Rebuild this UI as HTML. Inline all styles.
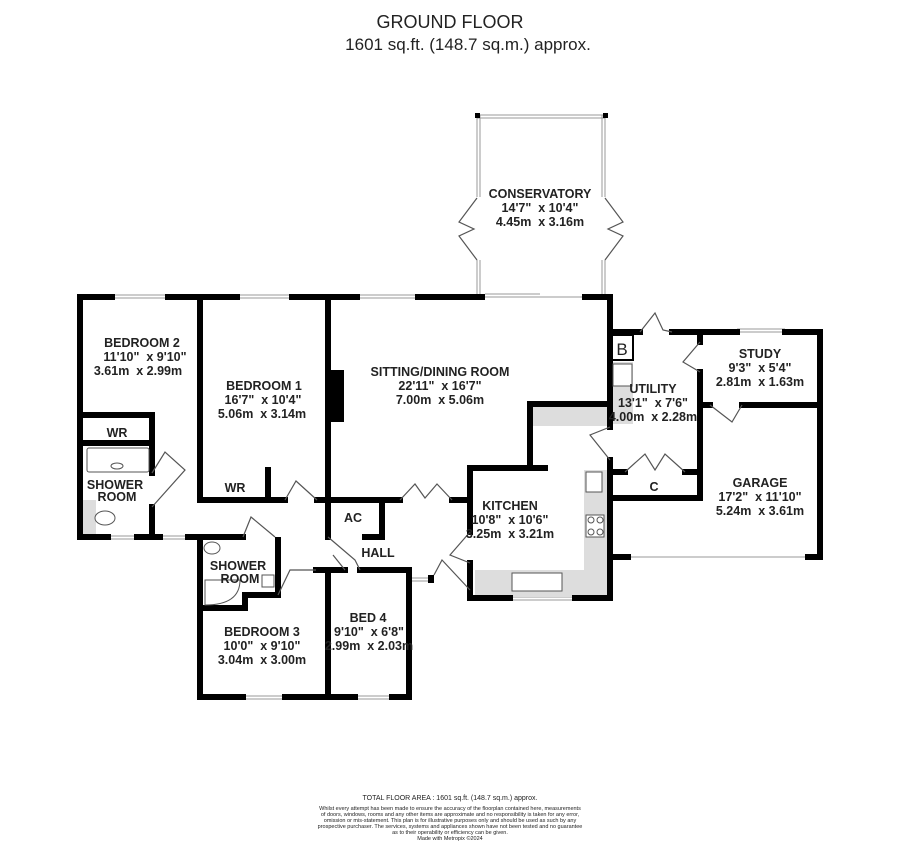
<!DOCTYPE html>
<html><head><meta charset="utf-8"><style>
body{margin:0;background:#fff;width:900px;height:849px;overflow:hidden}
svg{display:block}
.t{font-family:"Liberation Sans",sans-serif;fill:#222}
.r{font-family:"Liberation Sans",sans-serif;font-weight:bold;font-size:12.5px;fill:#222;text-anchor:middle;white-space:pre}
.w{stroke:#000;stroke-width:6;fill:none;stroke-linecap:square}
.th{stroke:#555;stroke-width:1.2;fill:none}
.win{stroke:#999;stroke-width:1;fill:none}
</style></head><body>
<svg width="900" height="849" viewBox="0 0 900 849">
<text class="t" x="450" y="28" font-size="18" text-anchor="middle">GROUND FLOOR</text>
<text class="t" x="468" y="50" font-size="17" text-anchor="middle">1601 sq.ft. (148.7 sq.m.) approx.</text>

<!-- conservatory -->
<g class="win">
<line x1="477" y1="115" x2="605" y2="115"/><line x1="477" y1="118" x2="605" y2="118"/>
<line x1="477" y1="115" x2="477" y2="197"/><line x1="480" y1="115" x2="480" y2="197"/>
<line x1="605" y1="115" x2="605" y2="197"/><line x1="602" y1="115" x2="602" y2="197"/>
<line x1="477" y1="260" x2="477" y2="296"/><line x1="480" y1="260" x2="480" y2="296"/>
<line x1="605" y1="260" x2="605" y2="296"/><line x1="602" y1="260" x2="602" y2="296"/>
</g>
<rect x="475" y="113" width="5" height="5"/><rect x="603" y="113" width="5" height="5"/>
<path class="th" d="M477 198 L459 222 L474 229 L459 236 L477 260 M605 198 L623 222 L608 229 L623 236 L605 260"/>

<!-- windows -->
<g class="win">
<line x1="112" y1="295" x2="168" y2="295"/><line x1="112" y1="298" x2="168" y2="298"/>
<line x1="237" y1="295" x2="292" y2="295"/><line x1="237" y1="298" x2="292" y2="298"/>
<line x1="357" y1="295" x2="418" y2="295"/><line x1="357" y1="298" x2="418" y2="298"/>
<line x1="482" y1="297" x2="585" y2="297"/><line x1="485" y1="294" x2="540" y2="294"/>
<line x1="737" y1="329" x2="785" y2="329"/><line x1="737" y1="332" x2="785" y2="332"/>
<line x1="108" y1="536" x2="137" y2="536"/><line x1="108" y1="539" x2="137" y2="539"/>
<line x1="160" y1="536" x2="188" y2="536"/><line x1="160" y1="539" x2="188" y2="539"/>
<line x1="243" y1="696" x2="285" y2="696"/><line x1="243" y1="699" x2="285" y2="699"/>
<line x1="355" y1="696" x2="392" y2="696"/><line x1="355" y1="699" x2="392" y2="699"/>
<line x1="510" y1="597" x2="575" y2="597"/><line x1="510" y1="600" x2="575" y2="600"/>
<line x1="628" y1="557" x2="808" y2="557"/>
<line x1="411" y1="578" x2="428" y2="578"/><line x1="411" y1="581" x2="428" y2="581"/>
</g>
<rect x="428" y="575" width="6" height="8"/>

<!-- grey fittings -->
<g fill="#ddd">
<rect x="533" y="406" width="75" height="20"/>
<rect x="584" y="470" width="24" height="125"/>
<rect x="475" y="570" width="133" height="27"/>
<rect x="613" y="362" width="20" height="62"/>
<rect x="82" y="500" width="14" height="34"/>
</g>
<rect x="328" y="370" width="16" height="52" fill="#000"/>

<!-- walls -->
<g class="w">
<path d="M80 297 H112 M168 297 H237 M292 297 H357 M418 297 H482 M585 297 H610 V427 M610 460 V598 H575 M510 598 H470 V563 M470 532 V468 H545"/>
<path d="M80 297 V537 H108 M137 537 H160 M188 537 H200 V697 H243 M285 697 H355 M392 697 H409 V570 H360 M345 570 H328 V697 M328 570 H316"/>
<path d="M200 297 V500 H285 M317 500 H400 M452 500 H470"/>
<path d="M328 297 V537 M328 500 V537 M382 500 V537 H365"/>
<path d="M268 470 V500 M82 415 H152 V473 M152 507 V537 M84 443 H152"/>
<path d="M200 537 H243 M278 540 V595 H245 V608 H200"/>
<path d="M530 468 V404 H608"/>
<path d="M610 332 H640 M672 332 H737 M785 332 H820 V557 H808 M610 557 H628"/>
<path d="M700 332 V342 M700 372 V498 H610 M610 472 H625 M685 472 H700"/>
<path d="M700 405 H710 M742 405 H820"/>
</g>
<rect x="612" y="335" width="21" height="25" fill="#fff" stroke="#000" stroke-width="2"/>
<text class="t" x="622" y="355" font-size="17" text-anchor="middle">B</text>

<!-- doors -->
<g class="th">
<path d="M640 332 L655 313 L663 330 L672 332"/>
<path d="M700 342 L683 362 L700 372"/>
<path d="M710 405 L732 422 L742 405"/>
<path d="M625 472 L645 454 L655 470 L665 454 L685 472"/>
<path d="M610 427 L590 435 L610 460"/>
<path d="M400 500 L415 484 L425 498 L437 484 L452 500"/>
<path d="M285 500 L296 481 L317 500"/>
<path d="M152 473 L165 452 L185 470 L152 507"/>
<path d="M243 537 L251 517 L275 537"/>
<path d="M278 595 L290 570 L316 570"/>
<path d="M328 537 L355 560 L360 570"/>
<path d="M345 570 L333 555"/>
<path d="M470 532 L450 555 L470 563"/>
<path d="M434 575 L442 560 L470 590"/>
</g>
<!-- sanitary -->
<g stroke="#555" stroke-width="1" fill="#fff">
<rect x="87" y="448" width="62" height="24" rx="2"/><ellipse cx="117" cy="466" rx="6" ry="3"/>
<ellipse cx="105" cy="518" rx="10" ry="7"/>
<ellipse cx="212" cy="548" rx="8" ry="6"/>
<path d="M205 580 H240 Q240 605 205 605 Z"/>
<rect x="262" y="575" width="12" height="12"/>
<rect x="586" y="472" width="16" height="20"/>
<rect x="586" y="515" width="18" height="22"/>
<circle cx="591" cy="520" r="3"/><circle cx="600" cy="520" r="3"/><circle cx="591" cy="532" r="3"/><circle cx="600" cy="532" r="3"/>
<rect x="512" y="573" width="50" height="18"/>
<rect x="613" y="364" width="19" height="22"/>
</g>

<text class="r" x="142" y="347">BEDROOM 2</text>
<text class="r" x="145" y="361">11'10"  x 9'10"</text>
<text class="r" x="138" y="375">3.61m  x 2.99m</text>
<text class="r" x="264" y="390">BEDROOM 1</text>
<text class="r" x="263" y="404">16'7"  x 10'4"</text>
<text class="r" x="262" y="418">5.06m  x 3.14m</text>
<text class="r" x="440" y="376">SITTING/DINING ROOM</text>
<text class="r" x="440" y="390">22'11"  x 16'7"</text>
<text class="r" x="440" y="404">7.00m  x 5.06m</text>
<text class="r" x="540" y="198">CONSERVATORY</text>
<text class="r" x="540" y="212">14'7"  x 10'4"</text>
<text class="r" x="540" y="226">4.45m  x 3.16m</text>
<text class="r" x="117" y="437">WR</text>
<text class="r" x="235" y="492">WR</text>
<text class="r" x="115" y="489">SHOWER</text>
<text class="r" x="117" y="501">ROOM</text>
<text class="r" x="353" y="522">AC</text>
<text class="r" x="378" y="557">HALL</text>
<text class="r" x="238" y="570">SHOWER</text>
<text class="r" x="240" y="583">ROOM</text>
<text class="r" x="262" y="636">BEDROOM 3</text>
<text class="r" x="262" y="650">10'0"  x 9'10"</text>
<text class="r" x="262" y="664">3.04m  x 3.00m</text>
<text class="r" x="368" y="622">BED 4</text>
<text class="r" x="369" y="636">9'10"  x 6'8"</text>
<text class="r" x="369" y="650">2.99m  x 2.03m</text>
<text class="r" x="510" y="510">KITCHEN</text>
<text class="r" x="510" y="524">10'8"  x 10'6"</text>
<text class="r" x="510" y="538">3.25m  x 3.21m</text>
<text class="r" x="653" y="393">UTILITY</text>
<text class="r" x="653" y="407">13'1"  x 7'6"</text>
<text class="r" x="653" y="421">4.00m  x 2.28m</text>
<text class="r" x="760" y="358">STUDY</text>
<text class="r" x="760" y="372">9'3"  x 5'4"</text>
<text class="r" x="760" y="386">2.81m  x 1.63m</text>
<text class="r" x="654" y="491">C</text>
<text class="r" x="760" y="487">GARAGE</text>
<text class="r" x="760" y="501">17'2"  x 11'10"</text>
<text class="r" x="760" y="515">5.24m  x 3.61m</text>

<g class="t" text-anchor="middle" font-size="5.5" fill="#444">
<text x="450" y="800" font-size="7">TOTAL FLOOR AREA : 1601 sq.ft. (148.7 sq.m.) approx.</text>
<text x="450" y="810">Whilst every attempt has been made to ensure the accuracy of the floorplan contained here, measurements</text>
<text x="450" y="816">of doors, windows, rooms and any other items are approximate and no responsibility is taken for any error,</text>
<text x="450" y="822">omission or mis-statement. This plan is for illustrative purposes only and should be used as such by any</text>
<text x="450" y="828">prospective purchaser. The services, systems and appliances shown have not been tested and no guarantee</text>
<text x="450" y="834">as to their operability or efficiency can be given.</text>
<text x="450" y="840">Made with Metropix ©2024</text>
</g>
</svg>
</body></html>
